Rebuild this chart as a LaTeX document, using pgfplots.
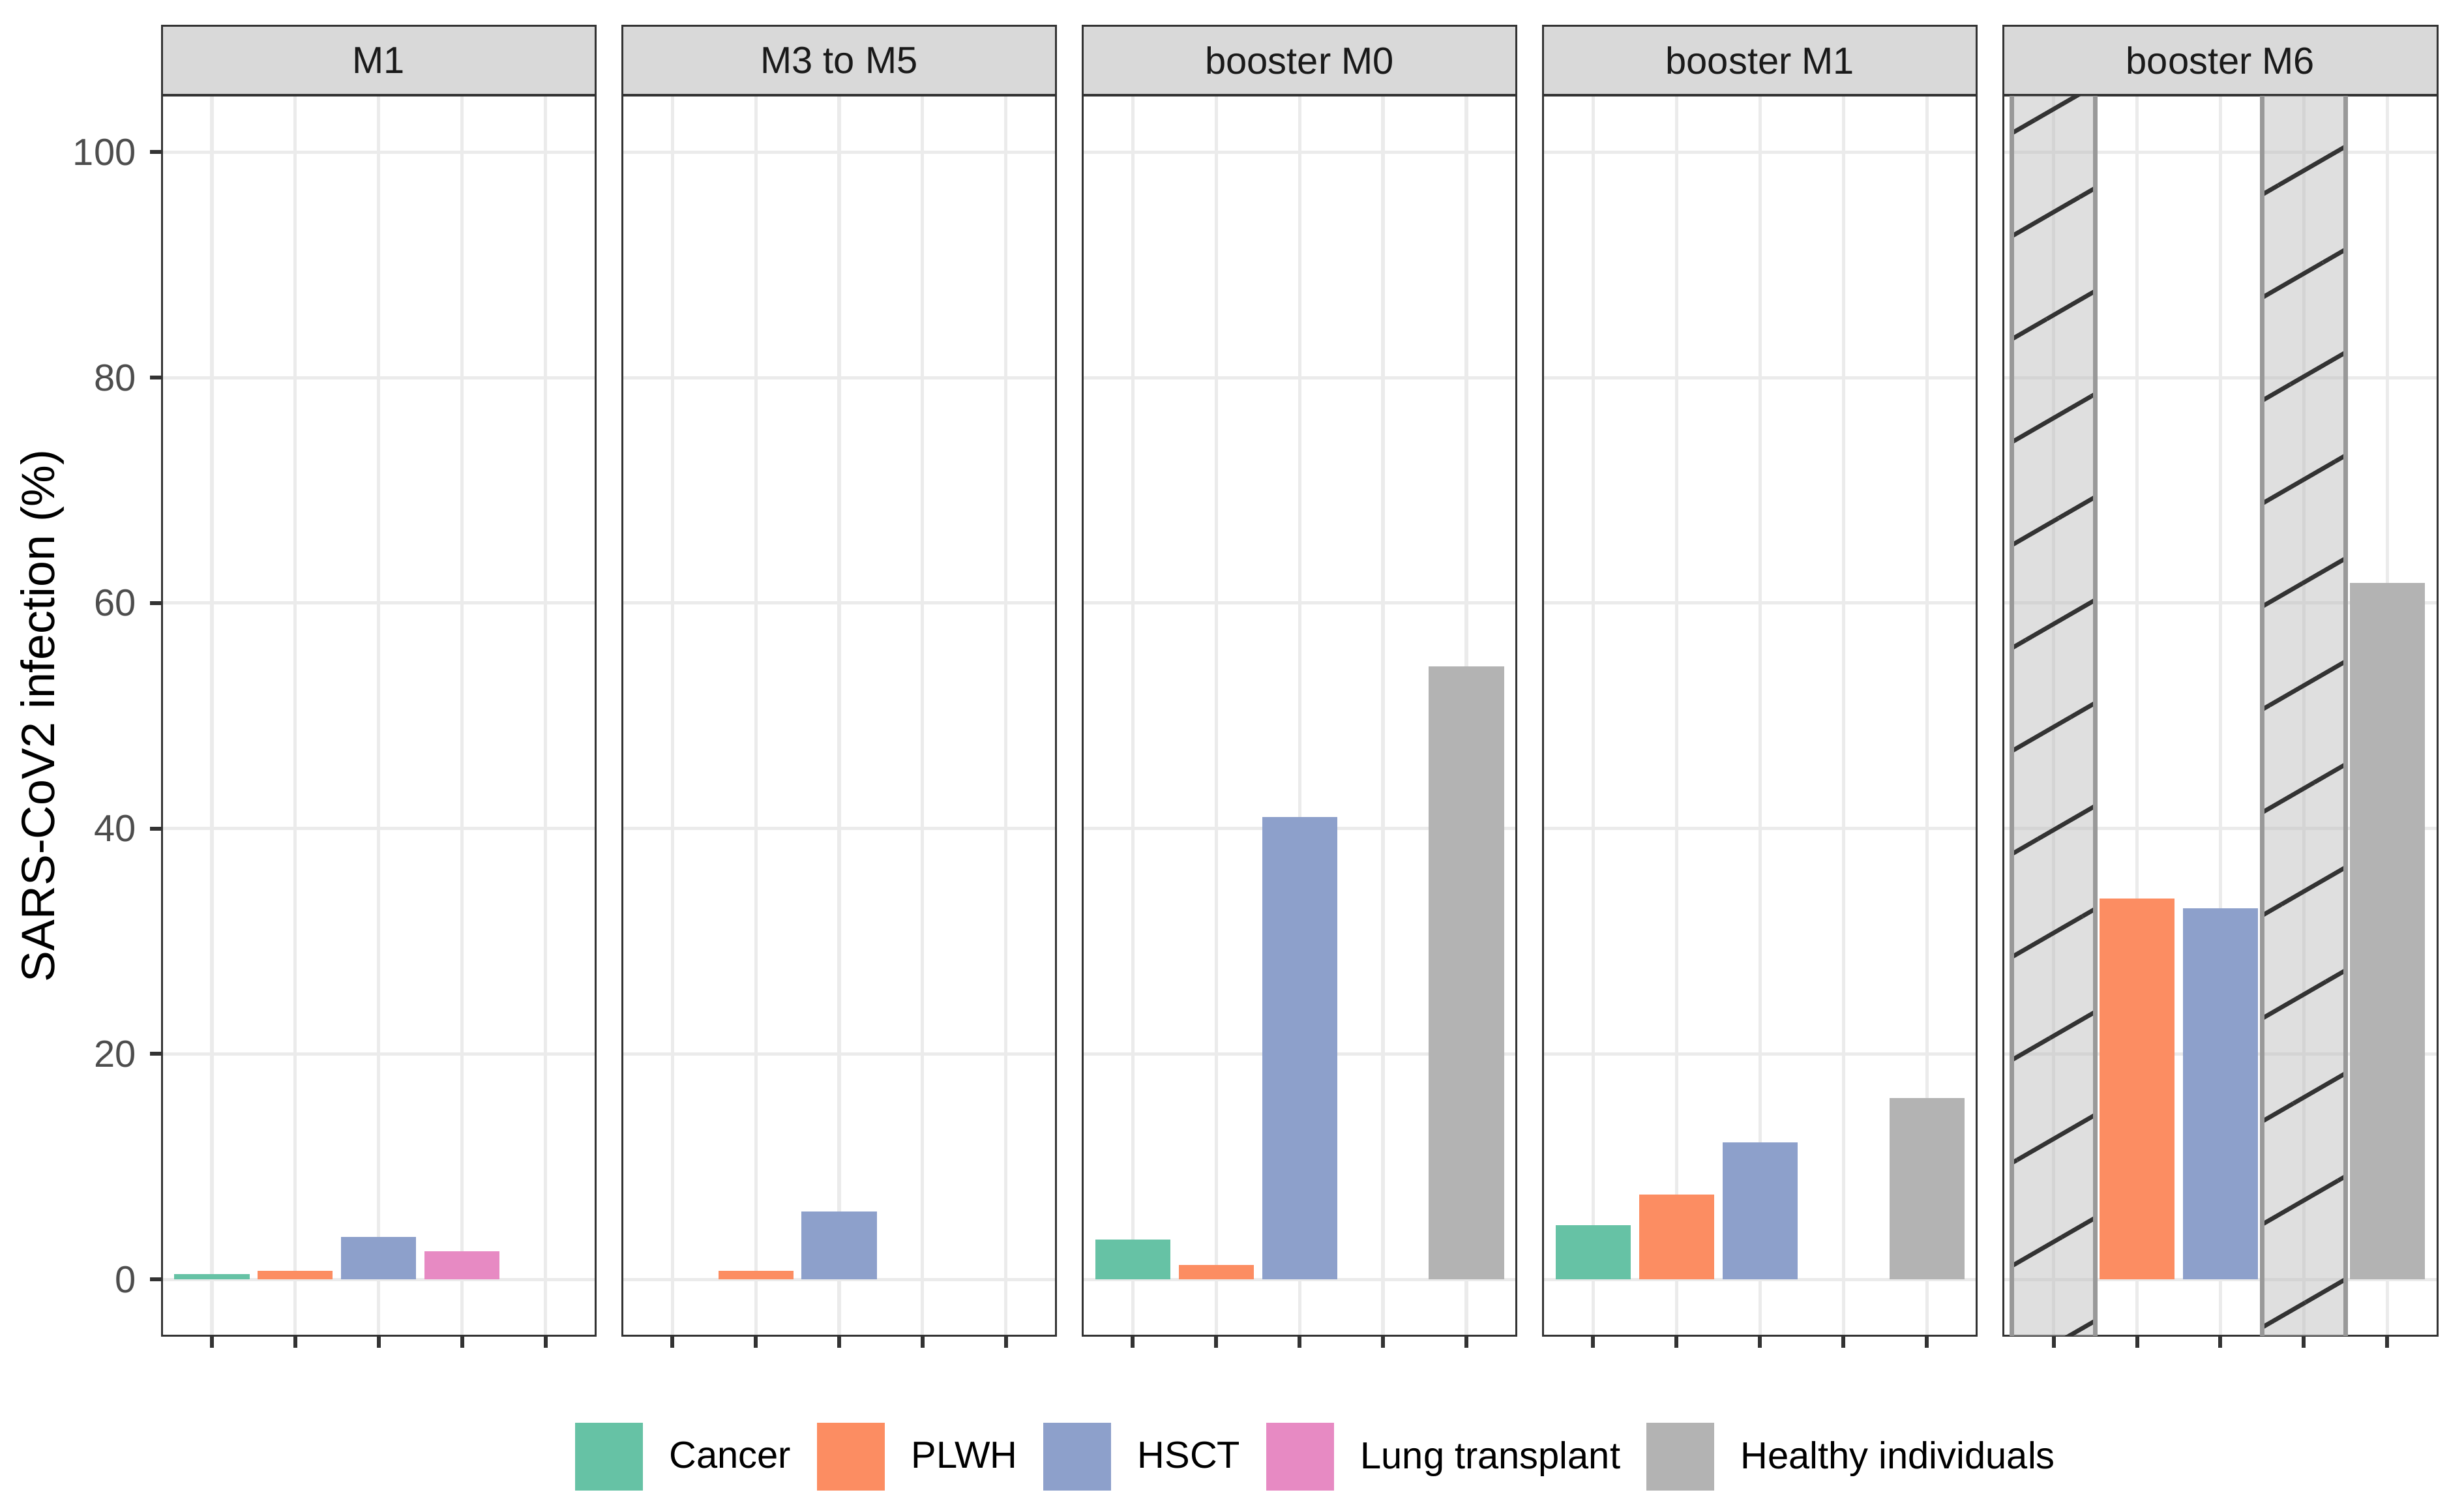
\documentclass[border=0pt]{standalone}
\usepackage{pgfplots}
\pgfplotsset{compat=1.18}
\usepackage{fontspec}
\setmainfont{Liberation Sans}
\usetikzlibrary{patterns.meta}

\definecolor{cCancer}{HTML}{66C2A5}
\definecolor{cPLWH}{HTML}{FC8D62}
\definecolor{cHSCT}{HTML}{8DA0CB}
\definecolor{cLung}{HTML}{E78AC3}
\definecolor{cHealthy}{HTML}{B3B3B3}
\definecolor{grey10}{HTML}{1A1A1A}
\definecolor{grey20}{HTML}{333333}
\definecolor{grey30}{HTML}{4D4D4D}
\definecolor{grey60}{HTML}{999999}
\definecolor{grey85}{HTML}{D9D9D9}
\definecolor{grey92}{HTML}{EBEBEB}

\pgfplotsset{
  facet/.style={
    scale only axis, width=110.4pt, height=315.6pt,
    anchor=south west,
    xmin=0.4, xmax=5.6, ymin=-5, ymax=105,
    xtick={1,2,3,4,5}, xticklabels={},
    ytick={0,20,40,60,80,100},
    xmajorgrids, ymajorgrids,
    major grid style={draw=grey92, line width=0.85pt},
    axis line style={draw=grey20, line width=0.5pt},
    tick style={draw=grey20, line width=1pt},
    tick align=outside, major tick length=3pt,
    xtick pos=left, ytick pos=left,
    /pgf/number format/assume math mode=true,
    tick label style={font=\fontsize{9.6}{11}\selectfont, text=grey30},
    yticklabel style={inner sep=0pt, xshift=-3.4pt},
    every axis title shift=0pt,
    title style={at={(0.5,1)}, anchor=south, fill=grey85, draw=grey20,
      line width=0.5pt, minimum width=110.4pt, minimum height=17.6pt, inner sep=0pt,
      text=grey10, font=\fontsize{9.6}{11}\selectfont},
  },
  bars/.style={ybar, bar width=0.9, bar shift=0pt, draw=none, fill=#1,
    legend image code/.code={\fill[#1] (0pt,-5.1pt) rectangle (17.2pt,12.1pt);}},
  nodata/.style={draw=none, fill=black!25, fill opacity=0.5, forget plot},
  nodatahatch/.style={draw=none, pattern={Lines[angle=30,distance=22.7pt,line width=1.1pt]}, pattern color=grey20, forget plot},
  nodataedge/.style={draw=grey60, line width=1.2pt, forget plot},
}

\begin{document}
\begin{tikzpicture}
\path[use as bounding box] (0,0) rectangle (627.2pt,382pt);

% Panel 1: M1
\begin{axis}[facet, at={(41.2pt,42pt)}, title={M1},
  ylabel={SARS-CoV2 infection (\%)},
  ylabel style={at={(axis description cs:-0.275,0.5)}, anchor=center, font=\fontsize{11.9}{14}\selectfont, text=black},
  legend columns=5, legend cell align=left,
  legend style={at={(axis description cs:0.953,-0.0976)}, anchor=west, draw=none, fill=none,
    inner sep=0pt, outer sep=0pt, font=\fontsize{9.6}{11}\selectfont,
    nodes={inner sep=0pt, text=black, yshift=3.2pt}, column sep=0pt,
    /tikz/every odd column/.append style={column sep=6.8pt},
    /tikz/every even column/.append style={column sep=6.6pt}},
]
\addplot[bars=cCancer] coordinates {(1,0.44)}; \addlegendentry{Cancer}
\addplot[bars=cPLWH] coordinates {(2,0.75)}; \addlegendentry{PLWH}
\addplot[bars=cHSCT] coordinates {(3,3.78)}; \addlegendentry{HSCT}
\addplot[bars=cLung] coordinates {(4,2.52)}; \addlegendentry{Lung transplant}
\addlegendimage{bars=cHealthy} \addlegendentry{Healthy individuals}
\end{axis}

% Panel 2: M3 to M5
\begin{axis}[facet, at={(158.4pt,42pt)}, title={M3 to M5}, yticklabels={}, ytick style={draw=none}]
\addplot[bars=cPLWH] coordinates {(2,0.77)};
\addplot[bars=cHSCT] coordinates {(3,6.03)};
\end{axis}

% Panel 3: booster M0
\begin{axis}[facet, at={(275.6pt,42pt)}, title={booster M0}, yticklabels={}, ytick style={draw=none}]
\addplot[bars=cCancer] coordinates {(1,3.52)};
\addplot[bars=cPLWH] coordinates {(2,1.30)};
\addplot[bars=cHSCT] coordinates {(3,41.0)};
\addplot[bars=cHealthy] coordinates {(5,54.4)};
\end{axis}

% Panel 4: booster M1
\begin{axis}[facet, at={(392.8pt,42pt)}, title={booster M1}, yticklabels={}, ytick style={draw=none}]
\addplot[bars=cCancer] coordinates {(1,4.78)};
\addplot[bars=cPLWH] coordinates {(2,7.51)};
\addplot[bars=cHSCT] coordinates {(3,12.16)};
\addplot[bars=cHealthy] coordinates {(5,16.09)};
\end{axis}

% Panel 5: booster M6
\begin{axis}[facet, at={(510pt,42pt)}, title={booster M6}, yticklabels={}, ytick style={draw=none}]
\addplot[nodata] coordinates {(0.5,-5) (0.5,105) (1.5,105) (1.5,-5)};
\addplot[nodatahatch] coordinates {(0.5,-5) (0.5,105) (1.5,105) (1.5,-5)};
\addplot[nodataedge] coordinates {(0.5,-5) (0.5,105)};
\addplot[nodataedge] coordinates {(1.5,-5) (1.5,105)};
\addplot[nodata] coordinates {(3.5,-5) (3.5,105) (4.5,105) (4.5,-5)};
\addplot[nodatahatch] coordinates {(3.5,-5) (3.5,105) (4.5,105) (4.5,-5)};
\addplot[nodataedge] coordinates {(3.5,-5) (3.5,105)};
\addplot[nodataedge] coordinates {(4.5,-5) (4.5,105)};
\addplot[bars=cPLWH] coordinates {(2,33.8)};
\addplot[bars=cHSCT] coordinates {(3,32.95)};
\addplot[bars=cHealthy] coordinates {(5,61.8)};
\end{axis}
\end{tikzpicture}
\end{document}
